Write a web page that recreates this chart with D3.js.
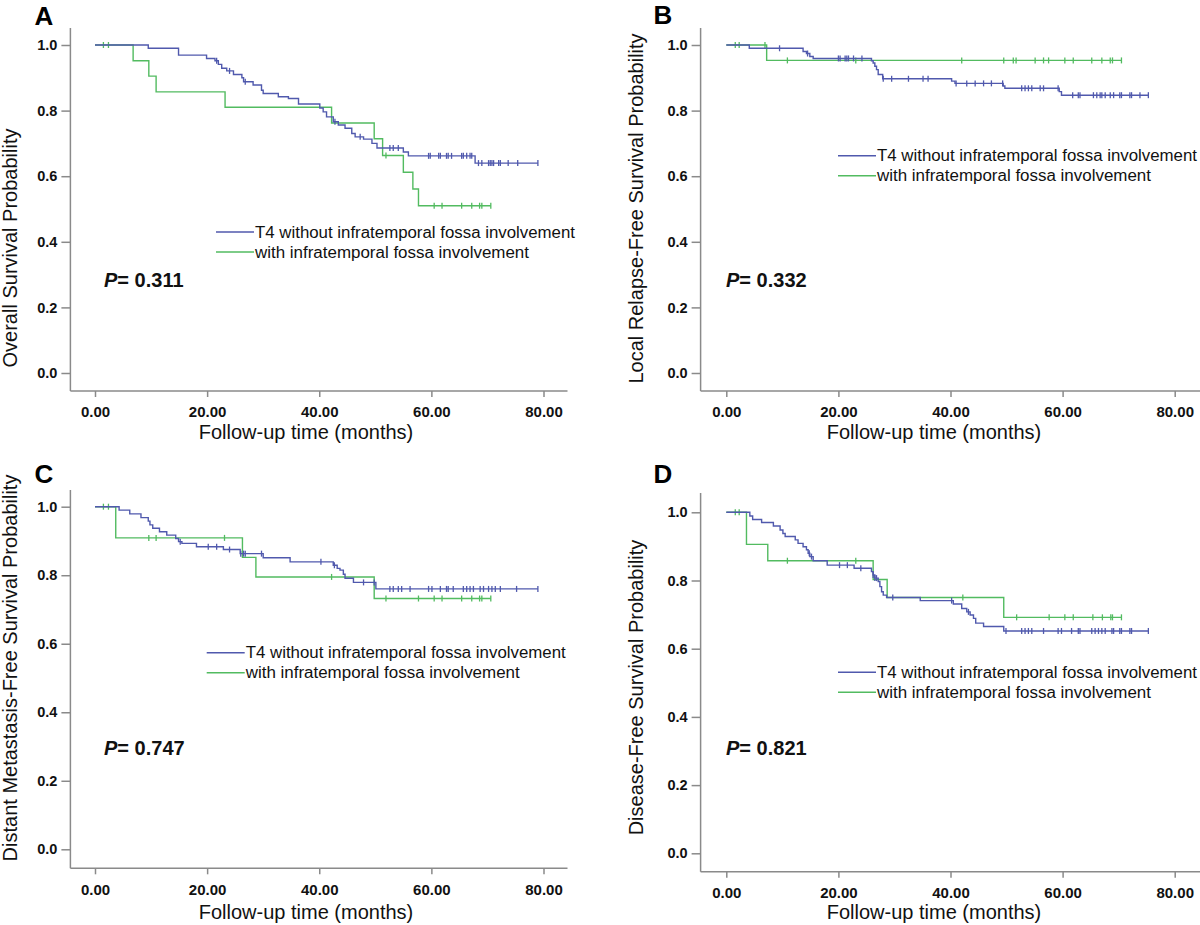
<!DOCTYPE html>
<html>
<head>
<meta charset="utf-8">
<script src="https://cdn.jsdelivr.net/npm/d3@7"></script>
<style>
  body { margin: 0; background: #fff; }
  svg { display: block; font-family: "Liberation Sans", Arial, sans-serif; }
</style>
</head>
<body>
<svg id="chart" width="1200" height="925"></svg>
<script>
// ---------------- data ----------------
var monthTicks = [0, 20, 40, 60, 80];
var probTicks = [0, 0.2, 0.4, 0.6, 0.8, 1.0];
var legendLabels = ["T4 without infratemporal fossa involvement", "with infratemporal fossa involvement"];
var xTitle = "Follow-up time (months)";
var panelLetters = ["A", "B", "C", "D"];
var yTitles = ["Overall Survival Probability", "Local Relapse-Free Survival Probability",
  "Distant Metastasis-Free Survival Probability", "Disease-Free Survival Probability"];
var pValues = ["0.311", "0.332", "0.747", "0.821"];

// A: overall survival  [month, survival] at each step
var osBlue = [[0, 1], [9.5, 0.99], [14.9, 0.969], [19.9, 0.959], [21.4, 0.952], [22.0, 0.941], [22.6, 0.929],
  [23.5, 0.921], [24.7, 0.91], [26.2, 0.90], [26.5, 0.888], [28.2, 0.878], [29.7, 0.862], [30.0, 0.852],
  [32.7, 0.842], [34.5, 0.837], [36.3, 0.82], [40.1, 0.808], [40.7, 0.796], [41.3, 0.781], [42.5, 0.766],
  [43.4, 0.756], [44.6, 0.746], [45.8, 0.73], [46.4, 0.72], [47.9, 0.713], [49.4, 0.70], [50.3, 0.686],
  [55.0, 0.674], [55.9, 0.662], [67.8, 0.64], [79.0, 0.64]];
var osBlueCensor = [21.7, 24.0, 26.8, 42.8, 47.3, 52.6, 53.2, 54.1, 59.5, 59.8, 61.3, 61.6, 62.7, 63.0, 63.6,
  65.4, 65.7, 66.3, 66.9, 67.2, 68.4, 69.0, 70.2, 70.5, 70.8, 71.1, 72.0, 72.3, 73.7, 75.4, 79.0];
var osGreen = [[0, 1], [6.8, 0.952], [9.6, 0.905], [10.9, 0.857], [23.2, 0.81], [42.2, 0.762], [49.8, 0.714],
  [51.3, 0.663], [55.0, 0.612], [56.7, 0.561], [57.7, 0.51], [70.6, 0.51]];
var osGreenCensor = [1.5, 2.4, 51.9, 60.5, 61.9, 65.4, 67.2, 68.6, 69.0, 70.6];

// B: local relapse-free survival
var lrfsBlue = [[0, 1], [4.1, 0.99], [13.7, 0.98], [14.3, 0.974], [14.9, 0.965], [15.5, 0.959], [25.9, 0.952],
  [26.2, 0.945], [26.5, 0.935], [26.8, 0.925], [27.1, 0.91], [27.9, 0.897], [40.2, 0.89], [40.8, 0.883],
  [49.4, 0.875], [49.7, 0.868], [59.4, 0.858], [59.8, 0.847], [75.3, 0.847]];
var lrfsBlueCensor = [9.5, 14.5, 20.0, 20.3, 21.2, 21.5, 21.8, 22.7, 24.2, 28.0, 29.5, 32.5, 35.1, 36.0, 41.0,
  42.9, 44.4, 45.9, 47.3, 49.3, 52.7, 53.3, 53.9, 54.5, 56.0, 56.6, 59.2, 61.8, 62.8, 63.1, 65.5, 66.1, 66.7,
  67.0, 67.6, 68.5, 69.1, 70.2, 70.5, 72.0, 72.3, 73.8, 75.3];
var lrfsGreen = [[0, 1], [7.2, 0.953], [70.5, 0.953]];
var lrfsGreenCensor = [1.6, 2.3, 6.9, 10.9, 23.1, 42.0, 49.5, 51.2, 51.7, 55.1, 56.6, 57.5, 60.4, 61.9, 65.2,
  67.0, 68.5, 68.9, 70.5];

// C: distant metastasis-free survival
var dmfsBlue = [[0, 1], [4.3, 0.99], [6.2, 0.979], [8.2, 0.968], [9.5, 0.958], [9.8, 0.947], [10.3, 0.937],
  [11.5, 0.927], [12.8, 0.917], [14.4, 0.907], [14.9, 0.898], [15.5, 0.893], [18.1, 0.883], [22.9, 0.875],
  [25.9, 0.863], [30.0, 0.851], [34.8, 0.839], [42.5, 0.829], [43.2, 0.82], [43.7, 0.815], [44.3, 0.803],
  [44.6, 0.791], [46.1, 0.779], [50.1, 0.76], [79.0, 0.76]];
var dmfsBlueCensor = [15.2, 20.2, 21.7, 24.0, 26.0, 26.5, 26.8, 29.7, 40.3, 42.7, 47.9, 49.8, 52.6, 53.2, 54.1,
  54.7, 56.2, 59.5, 60.1, 61.6, 62.7, 63.0, 63.9, 65.7, 66.3, 66.9, 67.5, 68.7, 69.3, 70.2, 70.8, 71.4, 72.3,
  75.2, 79.0];
var dmfsGreen = [[0, 1], [3.7, 0.909], [26.3, 0.852], [28.7, 0.795], [49.8, 0.732], [70.6, 0.732]];
var dmfsGreenCensor = [1.5, 2.4, 9.6, 10.9, 23.1, 42.2, 51.9, 57.7, 60.5, 61.9, 65.4, 67.2, 68.6, 69.0, 70.6];

// D: disease-free survival
var dfsBlue = [[0, 1], [4.2, 0.989], [4.7, 0.979], [6.3, 0.97], [8.4, 0.96], [9.6, 0.948], [10.1, 0.938],
  [10.5, 0.929], [12.3, 0.919], [12.8, 0.909], [13.7, 0.899], [14.3, 0.89], [14.6, 0.88], [14.9, 0.87],
  [15.5, 0.858], [18.0, 0.845], [22.8, 0.836], [25.9, 0.826], [26.2, 0.816], [26.5, 0.807], [27.1, 0.797],
  [27.4, 0.782], [27.7, 0.767], [28.0, 0.757], [28.6, 0.75], [34.6, 0.741], [40.5, 0.731], [42.0, 0.718],
  [42.9, 0.708], [43.5, 0.699], [44.1, 0.689], [44.5, 0.675], [45.9, 0.665], [49.5, 0.652], [75.3, 0.652]];
var dfsBlueCensor = [14.8, 15.2, 20.2, 21.6, 24.0, 26.2, 26.5, 26.8, 29.7, 40.2, 43.2, 49.9, 52.7, 53.3, 53.9,
  54.5, 56.6, 59.2, 59.8, 61.6, 62.8, 63.1, 65.2, 65.8, 66.4, 67.0, 67.6, 68.8, 69.1, 70.2, 70.5, 72.0, 72.3,
  75.3];
var dfsGreen = [[0, 1], [3.6, 0.906], [7.4, 0.858], [26.2, 0.803], [28.7, 0.75], [49.5, 0.692], [70.5, 0.692]];
var dfsGreenCensor = [1.6, 2.3, 10.9, 23.1, 42.2, 51.8, 57.6, 60.4, 61.9, 65.4, 67.1, 68.6, 68.9, 70.5];

// ---------------- layout (pixel positions of each panel) ----------------
var blueColor = "#5059ad";
var greenColor = "#52bb60";
var axisColor = "#8a8a8a";

var panels = [
  { blue: osBlue, blueCensor: osBlueCensor, green: osGreen, greenCensor: osGreenCensor,
    axisX: 70.4, x0: 95, x80: 543.5, xEnd: 567.5, y0: 373, y1: 45, yTop: 28, yBot: 391,
    tickLabelY: 417, titleY: 439, titleX: 306, yTitleX: 17, yTitleY: 248,
    letterX: 34.4, letterY: 25, legendX: 216, legendY: 232, pX: 104, pY: 287 },
  { blue: lrfsBlue, blueCensor: lrfsBlueCensor, green: lrfsGreen, greenCensor: lrfsGreenCensor,
    axisX: 700.6, x0: 726.3, x80: 1174.7, xEnd: 1200, y0: 373, y1: 45, yTop: 28, yBot: 391,
    tickLabelY: 417, titleY: 439, titleX: 934, yTitleX: 643, yTitleY: 208.5,
    letterX: 653.6, letterY: 24, legendX: 838, legendY: 155.7, pX: 726, pY: 287 },
  { blue: dmfsBlue, blueCensor: dmfsBlueCensor, green: dmfsGreen, greenCensor: dmfsGreenCensor,
    axisX: 70.4, x0: 95, x80: 543.5, xEnd: 567.5, y0: 849.3, y1: 506.7, yTop: 490, yBot: 868.3,
    tickLabelY: 895, titleY: 919, titleX: 306, yTitleX: 17, yTitleY: 668,
    letterX: 34.4, letterY: 483, legendX: 206.7, legendY: 652.7, pX: 104, pY: 755 },
  { blue: dfsBlue, blueCensor: dfsBlueCensor, green: dfsGreen, greenCensor: dfsGreenCensor,
    axisX: 700.6, x0: 726.3, x80: 1174.7, xEnd: 1200, y0: 853.3, y1: 512.3, yTop: 493, yBot: 871.7,
    tickLabelY: 898, titleY: 919, titleX: 934, yTitleX: 643, yTitleY: 687.5,
    letterX: 653.6, letterY: 483, legendX: 838, legendY: 672.3, pX: 726, pY: 755 }
];

var svg = d3.select("#chart");

// survival value at a given time (step function lookup)
function survivalAt(steps, t) {
  var v = steps[0][1];
  steps.forEach(function (s) { if (s[0] <= t) v = s[1]; });
  return v;
}

function drawPanel(p, i) {
  var g = svg.append("g").attr("class", "panel");

  var x = d3.scaleLinear().domain([0, 80]).range([p.x0, p.x80]);
  var y = d3.scaleLinear().domain([0, 1]).range([p.y0, p.y1]);

  // axis lines
  g.append("line")
    .attr("x1", p.axisX).attr("x2", p.axisX)
    .attr("y1", p.yTop).attr("y2", p.yBot)
    .attr("stroke", axisColor).attr("stroke-width", 1.5);
  g.append("line")
    .attr("x1", p.axisX).attr("x2", p.xEnd)
    .attr("y1", p.yBot).attr("y2", p.yBot)
    .attr("stroke", axisColor).attr("stroke-width", 1.5);

  // y axis ticks
  var yAxis = g.append("g")
    .attr("transform", "translate(" + p.axisX + ",0)")
    .call(d3.axisLeft(y).tickValues(probTicks).tickSize(9).tickSizeOuter(0).tickPadding(4)
      .tickFormat(d3.format(".1f")));
  yAxis.select(".domain").remove();
  yAxis.selectAll(".tick line").attr("stroke", axisColor).attr("stroke-width", 1.5);
  yAxis.selectAll(".tick text")
    .attr("fill", "#111")
    .style("font-family", "'Liberation Sans', Arial, sans-serif")
    .style("font-size", "14.5px")
    .style("font-weight", "bold");

  // x axis ticks
  var xAxis = g.append("g")
    .attr("transform", "translate(0," + p.yBot + ")")
    .call(d3.axisBottom(x).tickValues(monthTicks).tickSize(6).tickSizeOuter(0)
      .tickFormat(d3.format(".2f")));
  xAxis.select(".domain").remove();
  xAxis.selectAll(".tick line").attr("stroke", axisColor).attr("stroke-width", 1.5);
  xAxis.selectAll(".tick text")
    .attr("y", p.tickLabelY - p.yBot)
    .attr("dy", 0)
    .attr("fill", "#111")
    .style("font-family", "'Liberation Sans', Arial, sans-serif")
    .style("font-size", "15px")
    .style("font-weight", "bold");

  // axis titles
  g.append("text")
    .attr("x", p.titleX).attr("y", p.titleY)
    .attr("text-anchor", "middle")
    .style("font-size", "20px")
    .attr("fill", "#111")
    .text(xTitle);

  g.append("text")
    .attr("transform", "translate(" + p.yTitleX + "," + p.yTitleY + ") rotate(-90)")
    .attr("text-anchor", "middle")
    .style("font-size", "20px")
    .attr("fill", "#111")
    .text(yTitles[i]);

  // panel letter
  g.append("text")
    .attr("x", p.letterX).attr("y", p.letterY)
    .style("font-size", "26px")
    .style("font-weight", "bold")
    .attr("fill", "#000")
    .text(panelLetters[i]);

  // survival curves
  var line = d3.line()
    .x(function (d) { return x(d[0]); })
    .y(function (d) { return y(d[1]); })
    .curve(d3.curveStepAfter);

  var series = [
    { steps: p.green, censor: p.greenCensor, color: greenColor },
    { steps: p.blue, censor: p.blueCensor, color: blueColor }
  ];

  series.forEach(function (s) {
    g.append("path")
      .datum(s.steps)
      .attr("d", line)
      .attr("fill", "none")
      .attr("stroke", s.color)
      .attr("stroke-width", 1.4);

    // censor marks
    g.selectAll(null)
      .data(s.censor)
      .enter().append("line")
      .attr("x1", function (d) { return x(d); })
      .attr("x2", function (d) { return x(d); })
      .attr("y1", function (d) { return y(survivalAt(s.steps, d)) - 3; })
      .attr("y2", function (d) { return y(survivalAt(s.steps, d)) + 3; })
      .attr("stroke", s.color)
      .attr("stroke-width", 1.3);
  });

  // legend
  var legendColors = [blueColor, greenColor];
  var legendWidths = [320, 274];
  legendLabels.forEach(function (lab, k) {
    var ly = p.legendY + k * 20;
    g.append("line")
      .attr("x1", p.legendX).attr("x2", p.legendX + 38)
      .attr("y1", ly).attr("y2", ly)
      .attr("stroke", legendColors[k]).attr("stroke-width", 1.4);
    g.append("text")
      .attr("x", p.legendX + 39).attr("y", ly + 5.5)
      .style("font-size", "16px")
      .attr("textLength", legendWidths[k])
      .attr("lengthAdjust", "spacingAndGlyphs")
      .attr("fill", "#111")
      .text(lab);
  });

  // p value
  var pt = g.append("text")
    .attr("x", p.pX).attr("y", p.pY)
    .style("font-size", "20px")
    .style("font-weight", "bold")
    .attr("fill", "#111");
  pt.append("tspan").style("font-style", "italic").text("P");
  pt.append("tspan").text("= " + pValues[i]);
}

panels.forEach(drawPanel);
</script>
</body>
</html>
